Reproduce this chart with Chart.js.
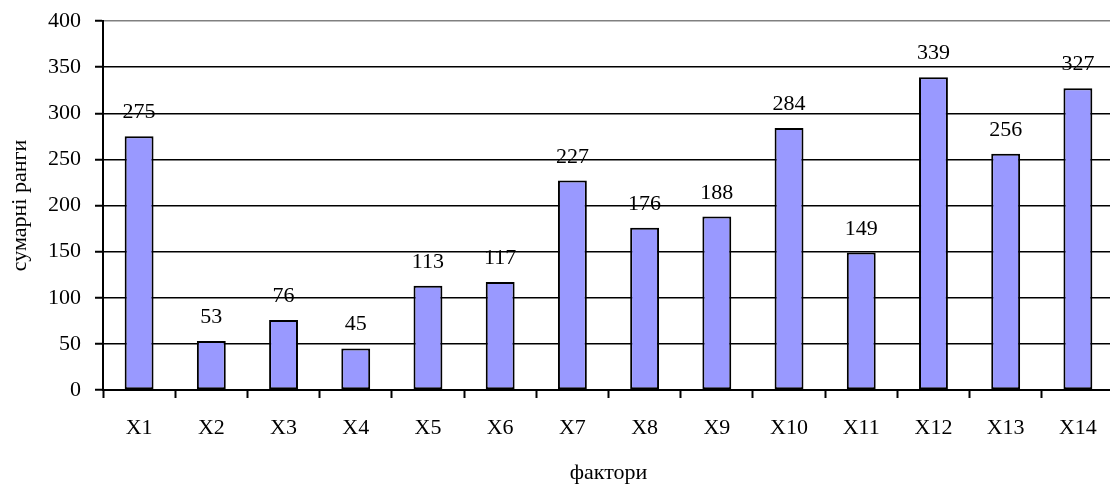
<!DOCTYPE html>
<html>
<head>
<meta charset="utf-8">
<script src="https://cdn.jsdelivr.net/npm/chart.js@4"></script>
<style>
  body { margin: 0; overflow: hidden; background: #fff; }
</style>
</head>
<body>
<canvas id="myChart" width="1114" height="489"></canvas>
<script>
// data
let factors = ['X1', 'X2', 'X3', 'X4', 'X5', 'X6', 'X7', 'X8', 'X9', 'X10', 'X11', 'X12', 'X13', 'X14'];
let ranks = [275, 53, 76, 45, 113, 117, 227, 176, 188, 284, 149, 339, 256, 327];
let yTicks = [0, 50, 100, 150, 200, 250, 300, 350, 400];

Chart.defaults.font.family = 'Liberation Serif';
Chart.defaults.font.size = 22;
Chart.defaults.color = '#000';

// values above bars
let barLabels = {
    id: 'barLabels',
    afterDatasetsDraw(chart) {
        let ctx = chart.ctx;
        let meta = chart.getDatasetMeta(0);
        ctx.save();
        ctx.font = '22px "Liberation Serif"';
        ctx.fillStyle = '#000';
        ctx.textAlign = 'center';
        ctx.textBaseline = 'alphabetic';
        meta.data.forEach(function(bar, i) {
            ctx.fillText(ranks[i], bar.x, bar.y - 18);
        });
        ctx.restore();
    }
};

let ctx = document.getElementById('myChart').getContext('2d');

let rankChart = new Chart(ctx, {
    type: 'bar',
    data: {
        labels: factors,
        datasets: [{
            label: 'сумарні ранги',
            data: ranks,
            backgroundColor: '#9999FF',
            borderColor: '#000',
            borderWidth: 2,
            borderSkipped: false,
            barPercentage: 0.4,
            categoryPercentage: 1
        }]
    },
    options: {
        responsive: false,
        animation: false,
        layout: {
            padding: { top: 21, left: 0, right: 0, bottom: 0 }
        },
        plugins: {
            legend: { display: false },
            tooltip: { enabled: false }
        },
        scales: {
            x: {
                grid: {
                    offset: true,
                    drawOnChartArea: false,
                    drawTicks: true,
                    tickLength: 8,
                    tickColor: '#000',
                    tickWidth: 2
                },
                border: { color: '#000', width: 2 },
                ticks: { padding: 17 },
                title: {
                    display: true,
                    text: 'фактори',
                    padding: { top: 10, bottom: 3 }
                },
                afterFit: function(scale) {
                    scale.height = 99;
                    scale.paddingLeft = 0;
                    scale.paddingRight = 0;
                }
            },
            y: {
                min: 0,
                max: 400,
                afterBuildTicks: function(scale) {
                    scale.ticks = yTicks.map(function(v) { return { value: v }; });
                },
                grid: {
                    color: function(c) { return c.tick && c.tick.value === 400 ? '#808080' : '#000'; },
                    lineWidth: 1.5,
                    tickLength: 8,
                    tickColor: '#000',
                    tickWidth: 2
                },
                border: { color: '#000', width: 2 },
                ticks: { padding: 14 },
                title: {
                    display: true,
                    text: 'сумарні ранги',
                    padding: { top: 7, bottom: 0 }
                },
                afterFit: function(scale) {
                    scale.width = 103;
                    scale.paddingTop = 0;
                    scale.paddingBottom = 0;
                }
            }
        }
    },
    plugins: [barLabels]
});
</script>
</body>
</html>
